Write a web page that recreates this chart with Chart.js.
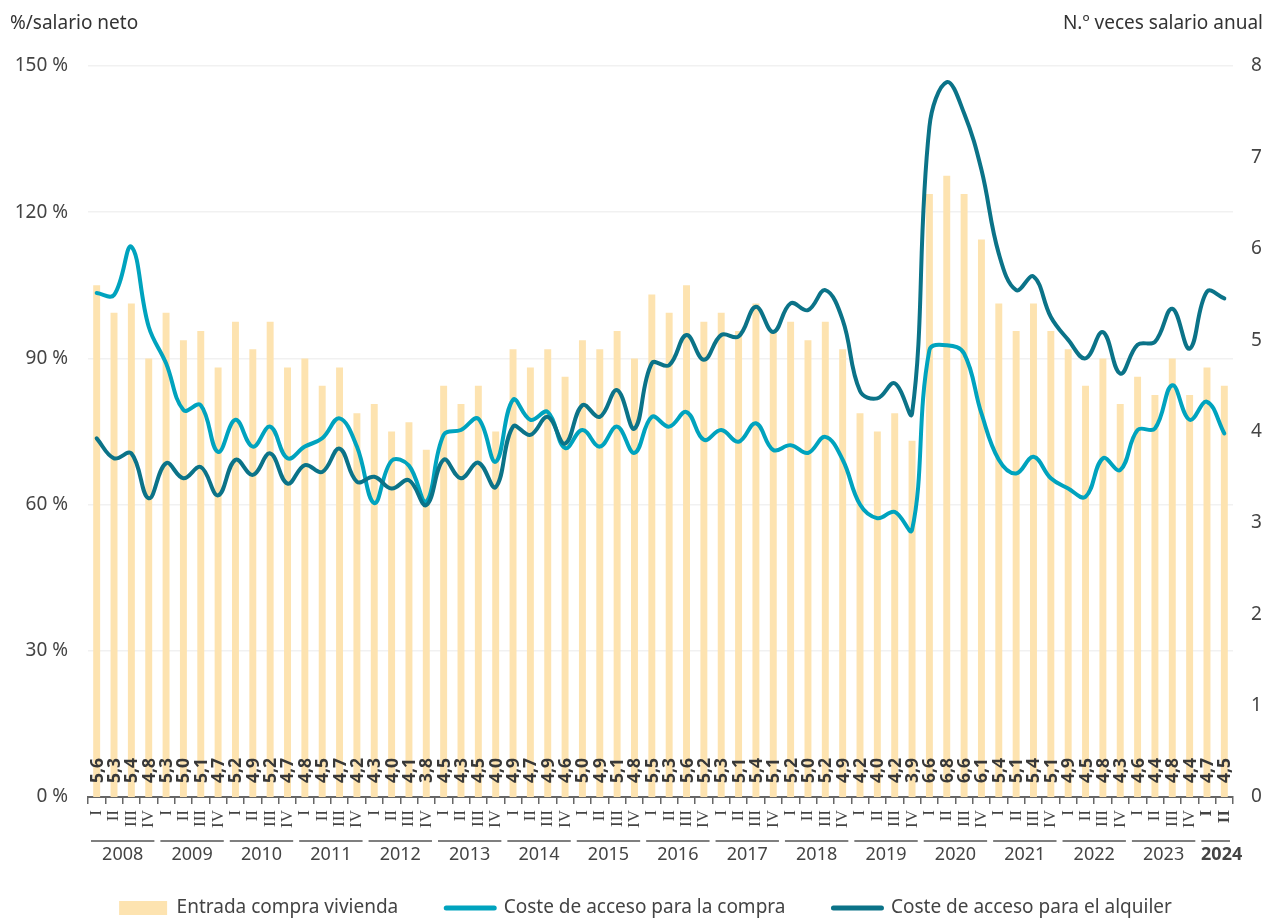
<!DOCTYPE html>
<html><head><meta charset="utf-8">
<script src="https://cdn.jsdelivr.net/npm/chart.js@4.4.1/dist/chart.umd.min.js"></script>
<style>html,body{margin:0;padding:0;background:#fff}#wrap{width:1266px;height:920px;position:relative}canvas{display:block}</style>
</head><body><div id="wrap"><canvas id="c" width="1266" height="920" style="width:1266px;height:920px"></canvas></div>
<script>
const years = [2008,2009,2010,2011,2012,2013,2014,2015,2016,2017,2018,2019,2020,2021,2022,2023,2024];
const quarters = ['I','II','III','IV'];
const quartersLast = 2; // 2024 has I and II

const entrada = [5.6,5.3,5.4,4.8, 5.3,5.0,5.1,4.7, 5.2,4.9,5.2,4.7, 4.8,4.5,4.7,4.2,
  4.3,4.0,4.1,3.8, 4.5,4.3,4.5,4.0, 4.9,4.7,4.9,4.6, 5.0,4.9,5.1,4.8,
  5.5,5.3,5.6,5.2, 5.3,5.1,5.4,5.1, 5.2,5.0,5.2,4.9, 4.2,4.0,4.2,3.9,
  6.6,6.8,6.6,6.1, 5.4,5.1,5.4,5.1, 4.9,4.5,4.8,4.3, 4.6,4.4,4.8,4.4, 4.7,4.5];

const compra = [103.4,103.0,112.9,96.5, 89,79.4,80.4,70.8, 77.4,71.9,76,69.5, 71.9,73.6,77.7,71.9,
  60.3,69,68,60.6, 74.3,75.3,77.6,68.8, 81.5,77.4,79,71.6, 75.3,71.9,76,70.6,
  78,76,79,73.3, 75.3,72.9,76.7,71.2, 72.2,70.6,73.9,69.2, 60,57.2,58.5,54.8,
  91.7,92.7,91,78.7, 69.2,66.4,69.8,65.4, 63.3,61.6,69.5,67.1, 75.3,75.6,84.5,77.4, 81.1,74.6];

const alquiler = [73.6,69.5,70.5,61.3, 68.5,65.4,67.7,61.9, 69.2,66.1,70.5,64.3, 68.1,66.7,71.5,64.7,
  65.7,63.3,65,59.9, 69.2,65.4,68.6,63.6, 76,74.3,78,72.5, 80.4,78,83.5,75.6,
  89,88.6,94.8,89.7, 94.8,94.5,100.6,95.4, 101.3,99.9,104,97.9, 83.3,81.8,84.9,78.7,
  137.5,146.7,140.3,128.7, 111.5,104,106.8,98.5, 93.8,90,95.4,86.9, 92.8,93.4,100.2,92, 103.7,102.3];

const seriesNames = ['Entrada compra vivienda','Coste de acceso para la compra','Coste de acceso para el alquiler'];
const axisTitles = ['%/salario neto','N.º veces salario anual'];

const labels = [];
const yearOf = [];
years.forEach((y, yi) => {
  const n = (yi === years.length - 1) ? quartersLast : 4;
  for (let q = 0; q < n; q++) { labels.push(quarters[q]); yearOf.push(y); }
});
const lastYear = years[years.length - 1];

const FONT = '"Noto Sans", "Open Sans", sans-serif';
const TXT = '#444';
const fmt = v => v.toFixed(1).replace('.', ',');

const decor = {
  id: 'decor',
  afterLayout(chart) {
    if (chart.legend) { chart.legend.left += 25; }
  },
  afterDatasetsDraw(chart) {
    const ctx = chart.ctx;
    const meta = chart.getDatasetMeta(0);
    const bottom = chart.chartArea.bottom;
    ctx.save();
    ctx.fillStyle = '#383838';
    ctx.font = 'bold 17.5px ' + FONT;
    ctx.textAlign = 'left';
    ctx.textBaseline = 'middle';
    meta.data.forEach((bar, i) => {
      ctx.save();
      ctx.translate(bar.x + 1, bottom - 14);
      ctx.rotate(-Math.PI / 2);
      ctx.fillText(fmt(entrada[i]), 0, 0);
      ctx.restore();
    });
    ctx.restore();
  },
  afterDraw(chart) {
    const ctx = chart.ctx;
    const xs = chart.scales.x;
    const bottom = chart.chartArea.bottom;
    const step = xs.getPixelForValue(1) - xs.getPixelForValue(0);
    ctx.save();
    ctx.fillStyle = '#333';
    ctx.font = '19px ' + FONT;
    ctx.textBaseline = 'middle';
    ctx.textAlign = 'left';
    ctx.fillText(axisTitles[0], 10, 24);
    ctx.textAlign = 'right';
    ctx.fillText(axisTitles[1], chart.width - 3, 24);
    let start = 0;
    years.forEach((y) => {
      let end = start;
      while (end + 1 < yearOf.length && yearOf[end + 1] === y) end++;
      const x0 = xs.getPixelForValue(start) - step / 2 + 3;
      const x1 = xs.getPixelForValue(end) + step / 2 - 3;
      ctx.strokeStyle = '#555';
      ctx.lineWidth = 1.5;
      ctx.beginPath();
      ctx.moveTo(x0, bottom + 44);
      ctx.lineTo(x1, bottom + 44);
      ctx.stroke();
      ctx.fillStyle = TXT;
      ctx.font = (y === lastYear ? 'bold ' : '') + '18px ' + FONT;
      ctx.textAlign = 'center';
      ctx.fillText(String(y), (x0 + x1) / 2 + (y === lastYear ? 6 : 0), bottom + 58);
      start = end + 1;
    });
    ctx.restore();
  }
};

const BAR = '#fde3b0';
const C1 = '#00a3be';
const C2 = '#0b7388';

new Chart(document.getElementById('c'), {
  type: 'bar',
  data: {
    labels,
    datasets: [
      { type: 'bar', label: seriesNames[0], data: entrada, yAxisID: 'y2', backgroundColor: BAR,
        barPercentage: 0.4, categoryPercentage: 1, order: 3 },
      { type: 'line', label: seriesNames[1], data: compra, yAxisID: 'y', borderColor: C1, backgroundColor: C1,
        borderWidth: 4, tension: 0.4, pointRadius: 0, fill: false, order: 2, borderCapStyle: 'round' },
      { type: 'line', label: seriesNames[2], data: alquiler, yAxisID: 'y', borderColor: C2, backgroundColor: C2,
        borderWidth: 4, tension: 0.4, pointRadius: 0, fill: false, order: 1, borderCapStyle: 'round' }
    ]
  },
  options: {
    responsive: false,
    animation: false,
    devicePixelRatio: 1,
    layout: { padding: { top: 66, left: 0, right: 0, bottom: -7.5 } },
    plugins: {
      tooltip: { enabled: false },
      legend: {
        position: 'bottom',
        labels: {
          usePointStyle: true, pointStyleWidth: 48, boxHeight: 14, padding: 48,
          color: TXT, font: { size: 19, family: FONT },
          generateLabels: chart => chart.data.datasets.map((ds, i) => ({
            text: ds.label, datasetIndex: i, hidden: false,
            fillStyle: ds.type === 'bar' ? ds.backgroundColor : ds.borderColor,
            strokeStyle: ds.type === 'bar' ? ds.backgroundColor : ds.borderColor,
            lineWidth: ds.type === 'bar' ? 0 : 5,
            lineCap: 'round',
            pointStyle: ds.type === 'bar' ? 'rect' : 'line',
            fontColor: TXT
          }))
        }
      }
    },
    scales: {
      x: {
        grid: { display: true, drawOnChartArea: false, drawTicks: true, tickLength: 7, color: '#666', lineWidth: 1.5, offset: true },
        border: { display: true, color: '#666', width: 2 },
        ticks: {
          autoSkip: false, maxRotation: 90, minRotation: 90, padding: 6, color: TXT,
          font: c => ({ family: '"Liberation Serif", serif', size: 17, weight: yearOf[c.index] === lastYear ? 'bold' : 'normal' })
        },
        afterFit: s => { s.height = 53.5; }
      },
      y: {
        position: 'left', min: 0, max: 150,
        ticks: { stepSize: 30, padding: 20, color: TXT, font: { size: 19, family: FONT }, callback: v => v + ' %' },
        grid: { color: '#f1f1f1', lineWidth: 1.5, drawTicks: false },
        border: { display: false },
        afterFit: s => { s.width = 88; }
      },
      y2: {
        position: 'right', min: 0, max: 8,
        ticks: { stepSize: 1, padding: 18, color: TXT, font: { size: 19, family: FONT } },
        grid: { display: false, drawTicks: false },
        border: { display: false },
        afterFit: s => { s.width = 33; }
      }
    }
  },
  plugins: [decor]
});
</script>
</body></html>
